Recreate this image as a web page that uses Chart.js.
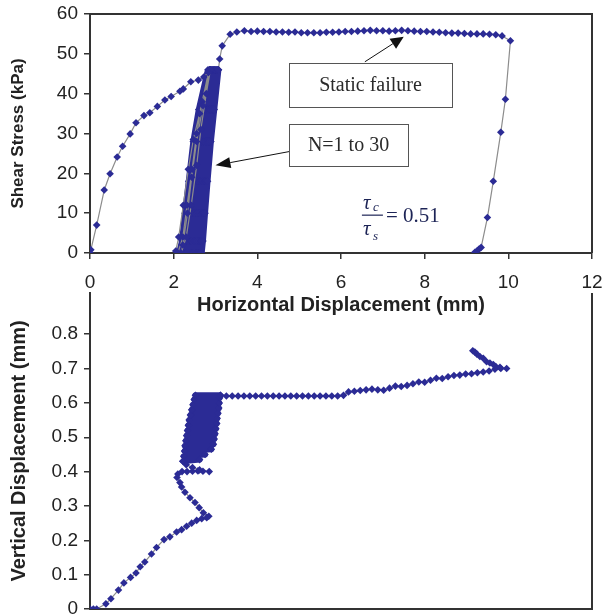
<!DOCTYPE html>
<html>
<head>
<meta charset="utf-8">
<script src="https://cdn.jsdelivr.net/npm/chart.js@4.4.1/dist/chart.umd.min.js"></script>
<style>
  html, body { margin: 0; padding: 0; background: #fff; overflow: hidden; }
  #wrap { position: relative; width: 603px; height: 615px; }
  #wrap canvas { position: absolute; left: 0; }
  #lower { top: 280px; }
  #upper { top: 0; }
</style>
</head>
<body>
<div id="wrap">
  <canvas id="lower" width="603" height="345"></canvas>
  <canvas id="upper" width="603" height="320"></canvas>
</div>
<script>
// ---- data ----
// shear stress (kPa) vs horizontal displacement (mm)
const shearLoad = [[0,0],[0.02,0.8],[0.16,7],[0.34,15.8],[0.48,19.9],[0.65,24.1],[0.78,26.8],
  [0.96,29.9],[1.1,32.7],[1.29,34.5],[1.43,35.2],[1.61,36.8],[1.79,38.4],[1.94,39.3],[2.15,40.6],
  [2.23,41.2],[2.41,43.0],[2.59,43.4],[2.72,44.2],[2.83,45.3]];

// first cycles (open loops on the left of the band)
const shearEarly = [[2.83,45.3],[2.62,35],[2.47,28.5],[2.35,21],[2.23,12],[2.12,4],[2.05,0.5],[2.1,0],
  [2.22,4],[2.32,12],[2.44,21],[2.55,30],[2.68,38],[2.86,46],
  [2.7,37],[2.55,28],[2.43,19],[2.33,10],[2.22,2],[2.18,0],
  [2.3,4],[2.42,12],[2.55,22],[2.65,31],[2.78,40],[2.88,46]];

// later cycles N = 1..30: x (mm) at each stress level, unload then reload
const cycleLevels = [46, 36, 28, 18, 10, 3, 0, 0, 3, 10, 18, 28, 36, 46];
const cycleX = [
  [2.82,2.60,2.47,2.36,2.27,2.20,2.13, 2.20,2.28,2.35,2.44,2.55,2.67,2.86],
  [2.86,2.66,2.54,2.44,2.35,2.28,2.22, 2.29,2.36,2.43,2.51,2.61,2.72,2.89],
  [2.89,2.71,2.60,2.50,2.42,2.35,2.31, 2.37,2.43,2.50,2.57,2.67,2.77,2.92],
  [2.92,2.76,2.66,2.57,2.49,2.42,2.40, 2.45,2.50,2.56,2.63,2.72,2.82,2.95],
  [2.95,2.81,2.72,2.63,2.56,2.49,2.47, 2.52,2.56,2.62,2.68,2.77,2.87,2.98],
  [2.98,2.86,2.77,2.69,2.62,2.55,2.53, 2.57,2.61,2.67,2.73,2.82,2.91,3.01],
  [3.01,2.90,2.82,2.75,2.68,2.61,2.59, 2.62,2.66,2.71,2.77,2.86,2.94,3.04],
  [3.04,2.94,2.86,2.79,2.73,2.66,2.63, 2.67,2.70,2.75,2.81,2.89,2.97,3.07]
];

// static failure and final unloading
const shearStatic = [[3.07,46],[3.1,48.7],[3.16,52],[3.35,54.9],[3.51,55.5],[3.69,55.8],[3.85,55.6],
  [4.0,55.7],[4.15,55.6],[4.3,55.6],[4.45,55.5],[4.6,55.5],[4.75,55.4],[4.9,55.5],[5.05,55.3],
  [5.2,55.3],[5.35,55.3],[5.5,55.3],[5.65,55.4],[5.8,55.4],[5.95,55.5],[6.1,55.6],[6.25,55.6],
  [6.4,55.7],[6.55,55.8],[6.7,55.9],[6.85,55.8],[7.0,55.8],[7.15,55.7],[7.3,55.8],[7.45,55.9],
  [7.6,55.8],[7.75,55.7],[7.9,55.6],[8.05,55.6],[8.2,55.5],[8.35,55.4],[8.5,55.3],[8.65,55.2],
  [8.8,55.2],[8.95,55.1],[9.1,55.0],[9.25,55.0],[9.4,55.0],[9.55,54.9],[9.7,54.8],[9.85,54.5],
  [10.05,53.3],[9.93,38.6],[9.82,30.3],[9.64,18],[9.5,8.9],[9.35,1.4],[9.3,1.0],[9.25,0.5],[9.2,0.2]];

// vertical displacement (mm) vs horizontal displacement (mm)
const vertPre = [[0,0],[0.08,0],[0.16,0],[0.38,0.015],[0.5,0.03],[0.68,0.055],[0.81,0.076],
  [0.97,0.092],[1.1,0.105],[1.2,0.123],[1.31,0.137],[1.47,0.16],[1.59,0.179],[1.77,0.202],
  [1.91,0.21],[2.07,0.224],[2.19,0.231],[2.31,0.241],[2.43,0.25],[2.55,0.258],[2.67,0.263],
  [2.79,0.266],[2.84,0.27],[2.71,0.28],[2.61,0.295],[2.51,0.31],[2.39,0.324],[2.27,0.34],
  [2.19,0.355],[2.15,0.368],[2.08,0.383],[2.1,0.393],[2.2,0.4],[2.32,0.4],[2.45,0.401],
  [2.58,0.402],[2.7,0.401],[2.85,0.4],[2.62,0.405],[2.45,0.412],[2.3,0.42],[2.22,0.43]];

const vertBand = [[2.22,0.43],[2.62,0.435],[2.24,0.445],[2.75,0.45],[2.26,0.46],[2.9,0.465],
  [2.27,0.475],[2.95,0.48],[2.29,0.49],[2.97,0.495],[2.31,0.505],[2.99,0.51],[2.33,0.52],
  [3.01,0.525],[2.35,0.535],[3.03,0.54],[2.37,0.55],[3.04,0.555],[2.40,0.565],[3.06,0.57],
  [2.43,0.58],[3.08,0.585],[2.46,0.595],[3.09,0.60],[2.49,0.61],[3.10,0.615],[2.52,0.622],[3.12,0.622]];

const vertPost = [[3.12,0.622],[3.26,0.62],[3.4,0.62],[3.54,0.62],[3.68,0.62],[3.82,0.62],[3.96,0.62],
  [4.1,0.62],[4.24,0.62],[4.38,0.62],[4.52,0.62],[4.66,0.62],[4.8,0.62],[4.94,0.62],[5.08,0.62],
  [5.22,0.62],[5.36,0.62],[5.5,0.62],[5.64,0.62],[5.78,0.62],[5.92,0.62],[6.06,0.622],[6.18,0.632],
  [6.32,0.634],[6.46,0.636],[6.6,0.638],[6.74,0.64],[6.88,0.638],[7.02,0.637],[7.16,0.643],
  [7.3,0.649],[7.44,0.648],[7.58,0.651],[7.72,0.656],[7.86,0.661],[8.0,0.66],[8.14,0.666],
  [8.28,0.672],[8.42,0.671],[8.56,0.676],[8.7,0.68],[8.84,0.681],[8.98,0.684],[9.12,0.685],
  [9.26,0.688],[9.4,0.69],[9.54,0.693],[9.68,0.698],[9.82,0.7],[9.96,0.7],[9.8,0.704],
  [9.7,0.706],[9.64,0.712],[9.56,0.716],[9.48,0.72],[9.4,0.73],[9.32,0.735],[9.25,0.742],
  [9.2,0.748],[9.15,0.752]];

const xTicks = { min: 0, max: 12, step: 2 };
const shearTicks = { min: 0, max: 60, step: 10 };
const vertTicks = { min: 0, max: 0.8, step: 0.1 };

// ---- helpers ----
const pts = arr => arr.map(p => ({ x: p[0], y: p[1] }));
const cyclePts = [];
cycleX.forEach(row => row.forEach((v, i) => cyclePts.push({ x: v, y: cycleLevels[i] })));

const NAVY = '#2b2b95';
const LINE = '#8c8c8c';
const SANS = '"Liberation Sans", Arial, sans-serif';
const SERIF = '"Liberation Serif", "Times New Roman", serif';

function series(data, thick) {
  return {
    data: data,
    showLine: true,
    borderColor: thick ? NAVY : LINE,
    borderWidth: thick ? 6 : 1.2,
    borderJoinStyle: 'round',
    pointStyle: 'rectRot',
    pointRadius: 3.8,
    pointBackgroundColor: NAVY,
    pointBorderColor: NAVY,
    pointBorderWidth: 0
  };
}

const tickFont = { family: SANS, size: 19 };

// keep the plot box exactly where the layout padding puts it
const noPadX = s => { s.paddingLeft = 0; s.paddingRight = 0; };
const noPadY = s => { s.paddingTop = 0; s.paddingBottom = 0; };

function arrow(ctx, x0, y0, x1, y1, L, W) {
  const a = Math.atan2(y1 - y0, x1 - x0);
  const bx = x1 - L * Math.cos(a), by = y1 - L * Math.sin(a);
  ctx.beginPath(); ctx.moveTo(x0, y0); ctx.lineTo(bx, by); ctx.stroke();
  ctx.beginPath();
  ctx.moveTo(x1, y1);
  ctx.lineTo(bx + W * Math.sin(a), by - W * Math.cos(a));
  ctx.lineTo(bx - W * Math.sin(a), by + W * Math.cos(a));
  ctx.closePath(); ctx.fill();
}

function labelBox(ctx, x0, y0, x1, y1, text) {
  ctx.fillStyle = '#fff';
  ctx.fillRect(x0, y0, x1 - x0, y1 - y0);
  ctx.strokeStyle = '#555'; ctx.lineWidth = 1;
  ctx.strokeRect(Math.round(x0) + 0.5, Math.round(y0) + 0.5, Math.round(x1 - x0), Math.round(y1 - y0));
  ctx.fillStyle = '#2a2a2a';
  ctx.font = '20px ' + SERIF;
  ctx.textAlign = 'center'; ctx.textBaseline = 'middle';
  ctx.fillText(text, (x0 + x1) / 2, (y0 + y1) / 2 + 1);
}

const upperNotes = {
  id: 'upperNotes',
  afterDraw(chart) {
    const { ctx, chartArea: a, scales: { x, y } } = chart;
    const px = v => x.getPixelForValue(v), py = v => y.getPixelForValue(v);
    ctx.save();
    // top and right frame
    ctx.strokeStyle = '#333'; ctx.lineWidth = 2;
    ctx.beginPath(); ctx.moveTo(a.left, a.top); ctx.lineTo(a.right, a.top); ctx.lineTo(a.right, a.bottom); ctx.stroke();

    // arrows
    ctx.strokeStyle = '#111'; ctx.fillStyle = '#111'; ctx.lineWidth = 1;
    arrow(ctx, px(6.57), py(48), px(7.5), py(54.3), 13, 6);
    arrow(ctx, px(4.78), py(25.5), px(3.0), py(22), 15, 5.5);

    // boxes
    labelBox(ctx, px(4.76), py(47.75), px(8.65), py(36.75), 'Static failure');
    labelBox(ctx, px(4.76), py(32.5), px(7.6), py(22), 'N=1 to 30');

    // tau_c / tau_s = 0.51
    const ax = px(6.5), ay = py(9.5);
    ctx.fillStyle = '#1d2456'; ctx.strokeStyle = '#1d2456';
    ctx.textAlign = 'left'; ctx.textBaseline = 'alphabetic';
    ctx.font = 'italic 21px ' + SERIF;
    ctx.fillText('\u03c4', ax + 1, ay - 6);
    ctx.fillText('\u03c4', ax + 1, ay + 20);
    ctx.font = 'italic 13px ' + SERIF;
    ctx.fillText('c', ax + 11, ay - 4);
    ctx.fillText('s', ax + 11, ay + 25);
    ctx.lineWidth = 1.2;
    ctx.beginPath(); ctx.moveTo(ax, ay); ctx.lineTo(ax + 21, ay); ctx.stroke();
    ctx.font = '21px ' + SERIF;
    ctx.fillText('= 0.51', ax + 24, ay + 7);
    ctx.restore();
  }
};

const lowerFrame = {
  id: 'lowerFrame',
  afterDraw(chart) {
    const { ctx, chartArea: a } = chart;
    ctx.save();
    ctx.strokeStyle = '#333'; ctx.lineWidth = 2;
    ctx.beginPath(); ctx.moveTo(a.right, a.top); ctx.lineTo(a.right, a.bottom); ctx.stroke();
    ctx.restore();
  }
};

// ---- upper chart ----
new Chart(document.getElementById('upper').getContext('2d'), {
  type: 'scatter',
  data: {
    datasets: [
      series(pts(shearLoad), false),
      series(pts(shearEarly), false),
      series(cyclePts, true),
      series(pts(shearStatic), false)
    ]
  },
  options: {
    responsive: false,
    animation: false,
    layout: { padding: { left: 0, right: 11, top: 14, bottom: 0 } },
    plugins: { legend: { display: false }, tooltip: { enabled: false } },
    scales: {
      x: {
        type: 'linear', min: xTicks.min, max: xTicks.max,
        ticks: { stepSize: xTicks.step, font: tickFont, color: '#222', padding: 12, maxRotation: 0 },
        grid: { drawOnChartArea: false, tickLength: 6, color: '#333', lineWidth: 1.5 },
        border: { color: '#333', width: 2 },
        title: { display: true, text: 'Horizontal Displacement (mm)', color: '#222',
          font: { family: SANS, size: 20, weight: 'bold' }, padding: { top: 0, bottom: 3 } },
        afterFit: s => { s.height = 67; noPadX(s); }
      },
      y: {
        type: 'linear', min: shearTicks.min, max: shearTicks.max,
        ticks: { stepSize: shearTicks.step, font: tickFont, color: '#222', padding: 6 },
        grid: { drawOnChartArea: false, tickLength: 6, color: '#333', lineWidth: 1.5 },
        border: { color: '#333', width: 2 },
        title: { display: true, text: 'Shear Stress (kPa)', color: '#222',
          font: { family: SANS, size: 17, weight: 'bold' }, padding: { top: 8, bottom: 0 } },
        afterFit: s => { s.width = 90; noPadY(s); }
      }
    }
  },
  plugins: [upperNotes]
});

// ---- lower chart ----
new Chart(document.getElementById('lower').getContext('2d'), {
  type: 'scatter',
  data: {
    datasets: [
      series(pts(vertPre), false),
      series(pts(vertBand), true),
      series(pts(vertPost), false)
    ]
  },
  options: {
    responsive: false,
    animation: false,
    layout: { padding: { left: 0, right: 11, top: 13, bottom: 4 } },
    plugins: { legend: { display: false }, tooltip: { enabled: false } },
    scales: {
      x: {
        type: 'linear', min: xTicks.min, max: xTicks.max,
        ticks: { display: false },
        grid: { display: false },
        border: { color: '#333', width: 2 },
        afterFit: s => { s.height = 12; noPadX(s); }
      },
      y: {
        type: 'linear', min: vertTicks.min, max: 0.92,
        ticks: { stepSize: vertTicks.step, font: tickFont, color: '#222', padding: 6 },
        grid: { drawOnChartArea: false, tickLength: 6, color: '#333', lineWidth: 1.5 },
        border: { color: '#333', width: 2 },
        title: { display: true, text: 'Vertical Displacement (mm)', color: '#222',
          font: { family: SANS, size: 20, weight: 'bold' }, padding: { top: 7, bottom: 0 } },
        afterBuildTicks: s => { s.ticks = s.ticks.filter(t => t.value <= vertTicks.max + 1e-9); },
        afterFit: s => { s.width = 90; noPadY(s); }
      }
    }
  },
  plugins: [lowerFrame]
});
</script>
</body>
</html>
